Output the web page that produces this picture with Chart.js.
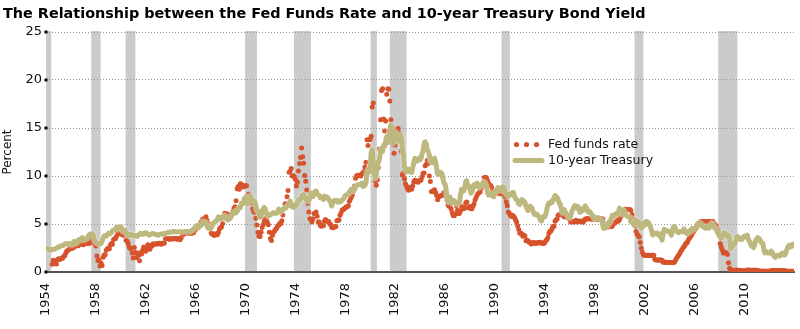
<!DOCTYPE html>
<html>
<head>
<meta charset="utf-8">
<script src="https://cdn.jsdelivr.net/npm/chart.js@4/dist/chart.umd.min.js"></script>
<style>
  html, body { margin: 0; padding: 0; background: #fff; }
  #wrap { width: 800px; height: 329px; }
</style>
</head>
<body>
<div id="wrap"><canvas id="chart" width="800" height="329"></canvas></div>
<script>
// ---- data -----------------------------------------------------------------
const chartTitle = 'The Relationship between the Fed Funds Rate and 10-year Treasury Bond Yield';
const axisTitle = 'Percent';
const seriesNames = ['Fed funds rate', '10-year Treasury'];

// Effective federal funds rate, monthly, starting July 1954 (percent)
const fedFundsStart = [1954, 7];
const fedFunds = [
  0.80,1.22,1.06,0.85,0.83,1.28,
  1.39,1.29,1.35,1.43,1.43,1.64,1.68,1.96,2.18,2.24,2.35,2.48,
  2.45,2.50,2.50,2.62,2.75,2.71,2.75,2.73,2.95,2.96,2.88,2.94,
  2.84,3.00,2.96,3.00,3.00,3.00,2.99,3.24,3.47,3.50,3.28,2.98,
  2.72,1.67,1.20,1.26,0.63,0.93,0.68,1.53,1.76,1.80,2.27,2.42,
  2.48,2.43,2.80,2.96,2.90,3.39,3.47,3.50,3.76,3.98,4.00,3.99,
  3.99,3.97,3.84,3.92,3.85,3.32,3.23,2.98,2.60,2.47,2.44,1.98,
  1.45,2.54,2.02,1.50,1.98,1.73,1.17,2.00,1.88,2.26,2.61,2.33,
  2.15,2.37,2.85,2.78,2.36,2.68,2.71,2.93,2.90,2.90,2.94,2.93,
  2.92,3.00,2.98,2.90,3.00,2.99,3.02,3.49,3.48,3.50,3.48,3.38,
  3.48,3.48,3.43,3.47,3.50,3.50,3.42,3.50,3.45,3.36,3.52,3.85,
  3.90,3.98,4.04,4.09,4.10,4.04,4.09,4.12,4.01,4.08,4.10,4.32,
  4.42,4.60,4.65,4.67,4.90,5.17,5.30,5.53,5.40,5.53,5.76,5.40,
  4.94,5.00,4.53,4.05,3.94,3.98,3.79,3.90,3.99,3.88,4.13,4.51,
  4.61,4.71,5.05,5.76,6.11,6.07,6.02,6.03,5.78,5.91,5.82,6.02,
  6.30,6.64,6.79,7.41,8.67,8.90,8.61,9.19,9.15,9.00,8.85,8.97,
  8.98,8.98,7.76,8.10,7.95,7.60,7.21,6.61,6.29,6.20,5.60,4.90,
  4.14,3.72,3.71,4.15,4.63,4.91,5.31,5.57,5.55,5.20,4.91,4.14,
  3.50,3.29,3.83,4.17,4.27,4.46,4.55,4.80,4.87,5.04,5.06,5.33,
  5.94,6.58,7.09,7.12,7.84,8.49,10.40,10.50,10.78,10.01,10.03,9.95,
  9.65,8.97,9.35,10.51,11.31,11.93,12.92,12.01,11.34,10.06,9.45,8.53,
  7.13,6.24,5.54,5.49,5.22,5.55,6.10,6.14,6.24,5.82,5.22,5.20,
  4.87,4.77,4.84,4.82,5.29,5.48,5.31,5.29,5.25,5.03,4.95,4.65,
  4.61,4.68,4.69,4.73,5.35,5.39,5.42,5.90,6.14,6.47,6.51,6.56,
  6.70,6.78,6.79,6.89,7.36,7.60,7.81,8.04,8.45,8.96,9.76,10.03,
  10.07,10.06,10.09,10.01,10.24,10.29,10.47,10.94,11.43,13.77,13.18,13.78,
  13.82,14.13,17.19,17.61,10.98,9.47,9.03,9.61,10.87,12.81,15.85,18.90,
  19.08,15.93,14.70,15.72,18.52,19.10,19.04,17.82,15.87,15.08,13.31,12.37,
  13.22,14.78,14.68,14.94,14.45,14.15,12.59,10.12,10.31,9.71,9.20,8.95,
  8.68,8.51,8.77,8.80,8.63,8.98,9.37,9.56,9.45,9.48,9.34,9.47,
  9.56,9.59,9.91,10.29,10.32,11.06,11.23,11.64,11.30,9.99,9.43,8.38,
  8.35,8.50,8.58,8.27,7.97,7.53,7.88,7.90,7.92,7.99,8.05,8.27,
  8.14,7.86,7.48,6.99,6.85,6.92,6.56,6.17,5.89,5.85,6.04,6.91,
  6.43,6.10,6.13,6.37,6.85,6.73,6.58,6.73,7.22,7.29,6.69,6.77,
  6.83,6.58,6.58,6.87,7.09,7.51,7.75,8.01,8.19,8.30,8.35,8.76,
  9.12,9.36,9.85,9.84,9.81,9.53,9.24,8.99,9.02,8.84,8.55,8.45,
  8.23,8.24,8.28,8.26,8.18,8.29,8.15,8.13,8.20,8.11,7.81,7.31,
  6.91,6.25,6.12,5.91,5.78,5.90,5.82,5.66,5.45,5.21,4.81,4.43,
  4.03,4.06,3.98,3.73,3.82,3.76,3.25,3.30,3.22,3.10,3.09,2.92,
  3.02,3.03,3.07,2.96,3.00,3.04,3.06,3.03,3.09,2.99,3.02,2.96,
  3.05,3.25,3.34,3.56,4.01,4.25,4.26,4.47,4.73,4.76,5.29,5.45,
  5.53,5.92,5.98,6.05,6.01,6.00,5.85,5.74,5.80,5.76,5.80,5.60,
  5.56,5.22,5.31,5.22,5.24,5.27,5.40,5.22,5.30,5.24,5.31,5.29,
  5.25,5.19,5.39,5.51,5.50,5.56,5.52,5.54,5.54,5.50,5.52,5.50,
  5.56,5.51,5.49,5.45,5.49,5.56,5.54,5.55,5.51,5.07,4.83,4.68,
  4.63,4.76,4.81,4.74,4.74,4.76,4.99,5.07,5.22,5.20,5.42,5.30,
  5.45,5.73,5.85,6.02,6.27,6.53,6.54,6.50,6.52,6.51,6.51,6.40,
  5.98,5.49,5.31,4.80,4.21,3.97,3.77,3.65,3.07,2.49,2.09,1.82,
  1.73,1.74,1.73,1.75,1.75,1.75,1.73,1.74,1.75,1.75,1.34,1.24,
  1.24,1.26,1.25,1.26,1.26,1.22,1.01,1.03,1.01,1.01,1.00,0.98,
  1.00,1.01,1.00,1.00,1.00,1.03,1.26,1.43,1.61,1.76,1.93,2.16,
  2.28,2.50,2.63,2.79,3.00,3.04,3.26,3.50,3.62,3.78,4.00,4.16,
  4.29,4.49,4.59,4.79,4.94,4.99,5.24,5.25,5.25,5.25,5.25,5.24,
  5.25,5.26,5.26,5.25,5.25,5.25,5.26,5.02,4.94,4.76,4.49,4.24,
  3.94,2.98,2.61,2.28,1.98,2.00,2.01,2.00,1.81,0.97,0.39,0.16,
  0.15,0.22,0.18,0.15,0.18,0.21,0.16,0.16,0.15,0.12,0.12,0.12,
  0.11,0.13,0.16,0.20,0.20,0.18,0.18,0.19,0.19,0.19,0.19,0.18,
  0.17,0.16,0.14,0.10,0.09,0.09,0.07,0.10,0.08,0.07,0.08,0.07,
  0.08,0.10,0.13,0.14,0.16,0.16,0.16,0.13,0.14,0.16,0.16,0.16,
  0.14,0.15,0.14,0.15,0.11,0.09,0.09,0.08,0.08,0.09,0.08,0.09
];

// 10-year Treasury constant-maturity yield, monthly, starting January 1954 (percent)
const treasuryStart = [1954, 1];
const treasury10y = [
  2.48,2.47,2.37,2.29,2.37,2.38,2.30,2.36,2.38,2.43,2.48,2.51,
  2.61,2.65,2.68,2.75,2.76,2.78,2.90,2.97,2.97,2.88,2.89,2.96,
  2.90,2.84,2.96,3.18,3.07,3.00,3.11,3.33,3.38,3.34,3.49,3.59,
  3.46,3.34,3.41,3.48,3.60,3.80,3.93,3.93,3.92,3.97,3.72,3.21,
  3.09,3.05,2.98,2.88,2.92,2.97,3.20,3.54,3.76,3.80,3.74,3.86,
  4.02,3.96,3.99,4.12,4.31,4.34,4.40,4.43,4.68,4.53,4.53,4.69,
  4.72,4.49,4.25,4.28,4.35,4.15,3.90,3.80,3.80,3.89,3.93,3.84,
  3.84,3.78,3.74,3.78,3.71,3.88,3.92,4.04,3.98,3.92,3.94,4.06,
  4.08,4.04,3.93,3.84,3.87,3.91,4.01,3.98,3.98,3.93,3.92,3.86,
  3.83,3.92,3.93,3.97,3.93,3.99,4.02,4.00,4.08,4.11,4.12,4.13,
  4.17,4.15,4.22,4.23,4.20,4.17,4.19,4.19,4.20,4.19,4.15,4.18,
  4.19,4.21,4.21,4.20,4.21,4.21,4.20,4.25,4.29,4.35,4.45,4.62,
  4.61,4.83,4.87,4.75,4.78,4.81,5.02,5.22,5.18,5.01,5.16,4.84,
  4.58,4.63,4.54,4.59,4.85,5.02,5.16,5.28,5.30,5.48,5.75,5.70,
  5.53,5.56,5.74,5.64,5.87,5.72,5.50,5.42,5.46,5.58,5.70,6.03,
  6.04,6.19,6.30,6.17,6.32,6.57,6.72,6.69,7.16,7.10,7.14,7.65,
  7.79,7.24,7.07,7.39,7.91,7.84,7.46,7.53,7.39,7.33,6.84,6.39,
  6.24,6.11,5.70,5.83,6.39,6.52,6.73,6.58,6.14,5.93,5.81,5.93,
  5.95,6.08,6.07,6.19,6.13,6.11,6.11,6.21,6.55,6.48,6.28,6.36,
  6.46,6.64,6.71,6.67,6.85,6.90,7.13,7.40,7.09,6.79,6.73,6.74,
  6.99,6.96,7.21,7.51,7.58,7.54,7.81,8.04,8.04,7.90,7.68,7.43,
  7.50,7.39,7.73,8.23,8.06,7.86,8.06,8.40,8.43,8.14,8.05,8.00,
  7.74,7.79,7.73,7.56,7.90,7.86,7.83,7.77,7.59,7.41,7.29,6.87,
  7.21,7.39,7.46,7.37,7.46,7.28,7.33,7.40,7.34,7.52,7.58,7.69,
  7.96,8.03,8.04,8.15,8.35,8.46,8.64,8.41,8.42,8.64,8.81,9.01,
  9.10,9.10,9.12,9.18,9.25,8.91,8.95,9.03,9.33,10.30,10.65,10.39,
  10.80,12.41,12.75,11.47,10.18,9.78,10.25,11.10,11.51,11.75,12.68,12.84,
  12.57,13.19,13.12,13.68,14.10,13.47,14.28,14.94,15.32,15.15,13.39,13.72,
  14.59,14.43,13.86,13.87,13.62,14.30,13.95,13.06,12.34,10.91,10.55,10.54,
  10.46,10.72,10.51,10.40,10.38,10.85,11.38,11.85,11.65,11.54,11.69,11.83,
  11.67,11.84,12.32,12.63,13.41,13.56,13.36,12.72,12.52,12.16,11.57,11.50,
  11.38,11.51,11.86,11.43,10.85,10.16,10.31,10.33,10.37,10.24,9.78,9.26,
  9.19,8.70,7.78,7.30,7.71,7.80,7.30,7.17,7.45,7.43,7.25,7.11,
  7.08,7.25,7.25,8.02,8.61,8.40,8.45,8.76,9.42,9.52,8.86,8.99,
  8.67,8.21,8.37,8.72,9.09,8.92,9.06,9.26,8.98,8.80,8.96,9.11,
  9.09,9.17,9.36,9.18,8.86,8.28,8.02,8.11,8.19,8.01,7.87,7.84,
  8.21,8.47,8.59,8.79,8.76,8.48,8.47,8.75,8.89,8.72,8.39,8.08,
  8.09,7.85,8.11,8.04,8.07,8.28,8.27,7.90,7.65,7.53,7.42,7.09,
  7.03,7.34,7.54,7.48,7.39,7.26,6.84,6.59,6.42,6.59,6.87,6.77,
  6.60,6.26,5.98,5.97,6.04,5.96,5.81,5.68,5.36,5.33,5.72,5.77,
  5.75,5.97,6.48,6.97,7.18,7.10,7.30,7.24,7.46,7.74,7.96,7.81,
  7.78,7.47,7.20,7.06,6.63,6.17,6.28,6.49,6.20,6.04,5.93,5.71,
  5.65,5.81,6.27,6.51,6.74,6.91,6.87,6.64,6.83,6.53,6.20,6.30,
  6.58,6.42,6.69,6.89,6.71,6.49,6.22,6.30,6.21,6.03,5.88,5.81,
  5.54,5.57,5.65,5.64,5.65,5.50,5.46,5.34,4.81,4.53,4.83,4.65,
  4.72,5.00,5.23,5.18,5.54,5.90,5.79,5.94,5.92,6.11,6.03,6.28,
  6.66,6.52,6.26,5.99,6.44,6.10,6.05,5.83,5.80,5.74,5.72,5.24,
  5.16,5.10,4.89,5.14,5.39,5.28,5.24,4.97,4.73,4.57,4.65,5.09,
  5.04,4.91,5.28,5.21,5.16,4.93,4.65,4.26,3.87,3.94,4.05,4.03,
  4.05,3.90,3.81,3.96,3.57,3.33,3.98,4.45,4.27,4.29,4.30,4.27,
  4.15,4.08,3.83,4.35,4.72,4.73,4.50,4.28,4.13,4.10,4.19,4.23,
  4.22,4.17,4.50,4.34,4.14,4.00,4.18,4.26,4.20,4.46,4.54,4.47,
  4.42,4.57,4.72,4.99,5.11,5.11,5.09,4.88,4.72,4.73,4.60,4.56,
  4.76,4.72,4.56,4.69,4.75,5.10,5.00,4.67,4.52,4.53,4.15,4.10,
  3.74,3.74,3.51,3.68,3.88,4.10,4.01,3.89,3.69,3.81,3.53,2.42,
  2.52,2.87,2.82,2.93,3.29,3.72,3.56,3.59,3.40,3.39,3.40,3.59,
  3.73,3.69,3.73,3.85,3.42,3.20,3.01,2.70,2.65,2.54,2.76,3.29,
  3.39,3.58,3.41,3.46,3.17,3.00,3.00,2.30,1.98,2.15,2.01,1.98,
  1.97,1.97,2.17,2.05,1.80,1.62,1.53,1.68,1.72,1.75,1.65,1.72,
  1.91,1.98,1.96,1.76,1.93,2.30,2.58,2.74,2.81,2.62,2.72,2.90
];

// Recession periods (start, end) in fractional years
const recessions = [
  [1953.50, 1954.42], [1957.63, 1958.38], [1960.38, 1961.17],
  [1969.96, 1970.92], [1973.88, 1975.25], [1980.04, 1980.54],
  [1981.58, 1982.92], [1990.54, 1991.21], [2001.21, 2001.92],
  [2007.92, 2009.46]
];

const yearTicks = [1954, 1958, 1962, 1966, 1970, 1974, 1978, 1982, 1986, 1990, 1994, 1998, 2002, 2006, 2010];
const percentTicks = [0, 5, 10, 15, 20, 25];

// ---- styling --------------------------------------------------------------
const RED = '#d6532c';
const OLIVE = '#bdb87e';
const BAR_GRAY = '#cbcbcb';
const FONT = '"DejaVu Sans", sans-serif';

Chart.defaults.font.family = FONT;
Chart.defaults.color = '#111';

function monthlyPoints(start, values) {
  return values.map((v, i) => ({ x: start[0] + (start[1] - 1 + i) / 12, y: v }));
}

// Shaded recession bands, painted under the grid
const recessionBands = {
  id: 'recessionBands',
  beforeDraw(chart) {
    const { ctx, chartArea: a, scales: { x } } = chart;
    ctx.save();
    ctx.fillStyle = BAR_GRAY;
    for (const [s, e] of recessions) {
      const x0 = x.getPixelForValue(Math.max(s, x.min));
      const x1 = x.getPixelForValue(Math.min(e, x.max));
      ctx.fillRect(x0, a.top - 1, x1 - x0, a.bottom - a.top + 1);
    }
    ctx.restore();
  }
};

// Soft white edge around the yield line
const lineHalo = {
  id: 'lineHalo',
  beforeDatasetDraw(chart, args) {
    if (args.index !== 1) return;
    chart.ctx.save();
    chart.ctx.shadowColor = 'rgba(255,255,255,0.95)';
    chart.ctx.shadowBlur = 2;
  },
  afterDatasetDraw(chart, args) {
    if (args.index !== 1) return;
    chart.ctx.restore();
  }
};

// Small round markers where the value ticks meet the plot edge
const tickDots = {
  id: 'tickDots',
  afterDraw(chart) {
    const { ctx, chartArea: a, scales: { y } } = chart;
    ctx.save();
    ctx.fillStyle = '#111';
    for (const v of percentTicks) {
      ctx.beginPath();
      ctx.arc(a.left, y.getPixelForValue(v), 1.8, 0, Math.PI * 2);
      ctx.fill();
    }
    ctx.restore();
  }
};

// Heading and in-plot key
const heading = {
  id: 'heading',
  afterDraw(chart) {
    const ctx = chart.ctx;
    ctx.save();
    ctx.fillStyle = '#000';
    ctx.font = 'bold 14.4px ' + FONT;
    ctx.textBaseline = 'alphabetic';
    ctx.textAlign = 'left';
    ctx.fillText(chartTitle, 3, 18);

    const ds = chart.data.datasets;
    const kx = 513, ky1 = 144.5, ky2 = 160.5;
    ctx.fillStyle = ds[0].backgroundColor;
    for (const dx of [3.5, 13.5, 23.5]) {
      ctx.beginPath();
      ctx.arc(kx + dx, ky1, 2.6, 0, Math.PI * 2);
      ctx.fill();
    }
    ctx.strokeStyle = ds[1].borderColor;
    ctx.lineWidth = 5;
    ctx.lineCap = 'round';
    ctx.beginPath();
    ctx.moveTo(kx + 2, ky2);
    ctx.lineTo(kx + 29, ky2);
    ctx.stroke();

    ctx.fillStyle = '#111';
    ctx.font = '12.5px ' + FONT;
    ctx.textBaseline = 'middle';
    ctx.fillText(ds[0].label, 548, ky1);
    ctx.fillText(ds[1].label, 548, ky2);
    ctx.restore();
  }
};

new Chart(document.getElementById('chart'), {
  type: 'line',
  data: {
    datasets: [
      {
        label: seriesNames[0],
        data: monthlyPoints(fedFundsStart, fedFunds),
        showLine: false,
        pointRadius: 2.5,
        pointBorderWidth: 0,
        pointBackgroundColor: RED,
        backgroundColor: RED,
        borderColor: RED,
        order: 1
      },
      {
        label: seriesNames[1],
        data: monthlyPoints(treasuryStart, treasury10y),
        borderColor: OLIVE,
        backgroundColor: OLIVE,
        borderWidth: 5,
        pointRadius: 0,
        tension: 0,
        borderJoinStyle: 'round',
        borderCapStyle: 'round',
        order: 0
      }
    ]
  },
  options: {
    responsive: false,
    animation: false,
    events: [],
    layout: { padding: { top: 32, right: 6, left: 0, bottom: 0 } },
    plugins: {
      legend: { display: false },
      title: { display: false },
      tooltip: { enabled: false }
    },
    scales: {
      x: {
        type: 'linear',
        min: 1954,
        max: 2014,
        afterBuildTicks: (s) => { s.ticks = yearTicks.map(v => ({ value: v })); },
        afterFit: (s) => { s.height = 57; },
        grid: { display: false, drawTicks: false },
        border: { display: true, color: '#555', width: 2 },
        ticks: {
          autoSkip: false,
          minRotation: 90,
          maxRotation: 90,
          padding: 11,
          color: '#111',
          font: { size: 13 },
          callback: (v) => String(v)
        }
      },
      y: {
        min: 0,
        max: 25,
        afterBuildTicks: (s) => { s.ticks = percentTicks.map(v => ({ value: v })); },
        afterFit: (s) => { s.width = 46; },
        grid: {
          drawTicks: false,
          color: (c) => (c.tick && c.tick.value === 0) ? 'rgba(0,0,0,0)' : '#9a9a9a',
          lineWidth: 1
        },
        border: { display: false, dash: [1, 2] },
        ticks: { padding: 4, color: '#111', font: { size: 13 } },
        title: {
          display: true,
          text: axisTitle,
          color: '#111',
          font: { size: 12 },
          padding: { top: 1, bottom: 0 }
        }
      }
    }
  },
  plugins: [recessionBands, lineHalo, tickDots, heading]
});
</script>
</body>
</html>
